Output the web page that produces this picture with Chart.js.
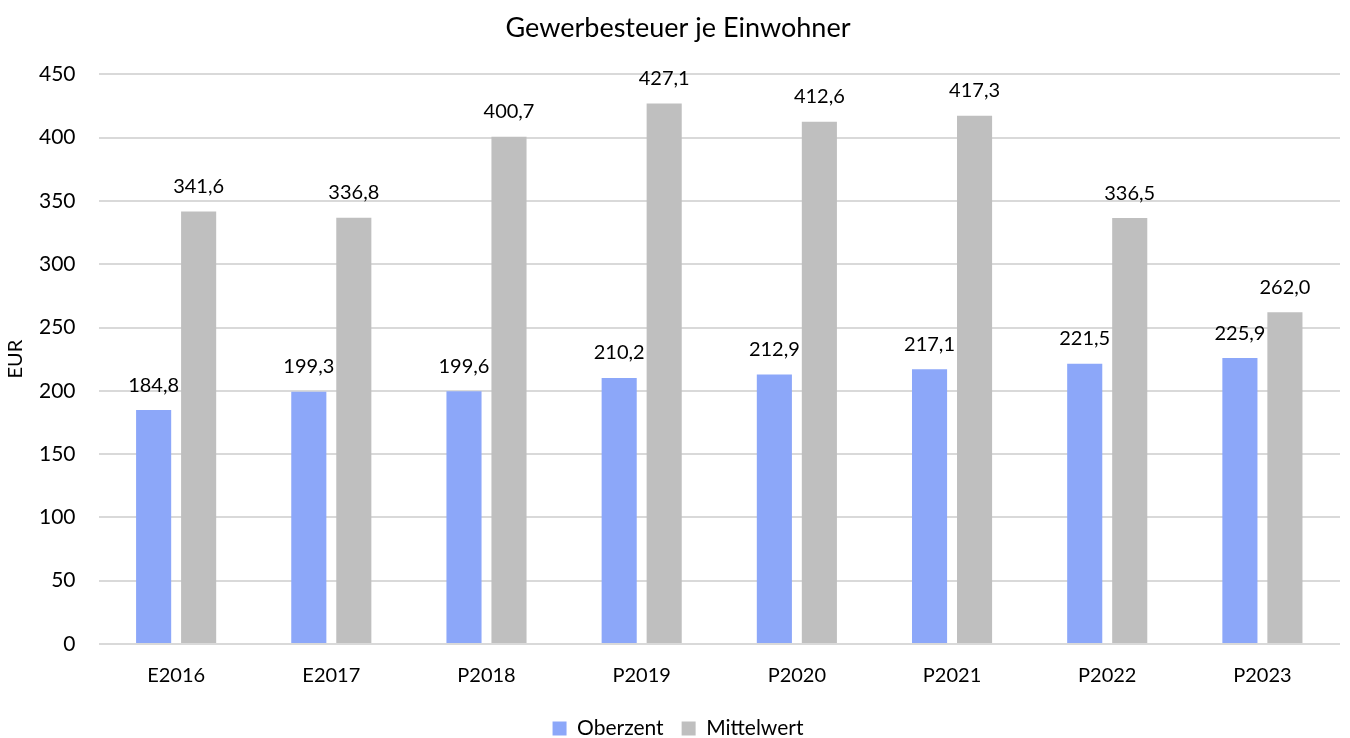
<!DOCTYPE html>
<html>
<head>
<meta charset="utf-8">
<script src="https://cdn.jsdelivr.net/npm/chart.js@4"></script>
<style>
  html, body { margin: 0; padding: 0; background: #fff; }
  #wrap { width: 1350px; height: 738px; }
</style>
</head>
<body>
<div id="wrap"><canvas id="c" width="1350" height="738"></canvas></div>
<script>
const CATEGORIES = ['E2016', 'E2017', 'P2018', 'P2019', 'P2020', 'P2021', 'P2022', 'P2023'];
const OBERZENT   = [184.8, 199.3, 199.6, 210.2, 212.9, 217.1, 221.5, 225.9];
const MITTELWERT = [341.6, 336.8, 400.7, 427.1, 412.6, 417.3, 336.5, 262.0];
const Y_TICKS    = [0, 50, 100, 150, 200, 250, 300, 350, 400, 450];
const Y_TITLE    = 'EUR';

const FONT = "Lato, 'Open Sans', sans-serif";
const TXT  = '#000000';

// value labels above each bar (German decimal comma) + rotated y title
const valueLabels = {
  id: 'valueLabels',
  afterDatasetsDraw(chart) {
    const ctx = chart.ctx;
    ctx.save();
    ctx.font = `20px ${FONT}`;
    ctx.fillStyle = TXT;
    ctx.textAlign = 'center';
    ctx.textBaseline = 'middle';
    chart.data.datasets.forEach((ds, i) => {
      chart.getDatasetMeta(i).data.forEach((bar, j) => {
        const txt = ds.data[j].toFixed(1).replace('.', ',');
        ctx.fillText(txt, bar.x, bar.y - 25);
      });
    });
    // y axis title
    const a = chart.chartArea;
    ctx.translate(16, (a.top + a.bottom) / 2);
    ctx.rotate(-Math.PI / 2);
    ctx.fillText(Y_TITLE, 0, 0);
    ctx.restore();
  }
};

new Chart(document.getElementById('c'), {
  type: 'bar',
  data: {
    labels: CATEGORIES,
    datasets: [
      { label: 'Oberzent',   data: OBERZENT,   backgroundColor: '#8ca7f9' },
      { label: 'Mittelwert', data: MITTELWERT, backgroundColor: '#bfbfbf' }
    ]
  },
  options: {
    responsive: false,
    animation: false,
    categoryPercentage: 0.58,
    barPercentage: 0.78,
    layout: { padding: { left: 16, right: 10, top: 4, bottom: -11 } },
    scales: {
      x: {
        grid: { display: false },
        border: { display: false },
        ticks: { color: TXT, font: { family: FONT, size: 20 }, padding: 12 }
      },
      y: {
        min: 0, max: 450,
        afterBuildTicks: s => { s.ticks = Y_TICKS.map(v => ({ value: v })); },
        grid: { color: '#d9d9d9', lineWidth: 2, drawTicks: false },
        border: { display: false },
        ticks: { color: TXT, font: { family: FONT, size: 21 }, padding: 23 }
      }
    },
    plugins: {
      title: {
        display: true,
        text: 'Gewerbesteuer je Einwohner',
        color: TXT,
        font: { family: FONT, size: 27, weight: 'normal' },
        padding: { top: 8, bottom: 30 }
      },
      legend: {
        position: 'bottom',
        labels: { color: TXT, font: { family: FONT, size: 21 }, boxWidth: 14, boxHeight: 14, padding: 18 }
      },
      tooltip: { enabled: false }
    }
  },
  plugins: [valueLabels]
});
</script>
</body>
</html>
